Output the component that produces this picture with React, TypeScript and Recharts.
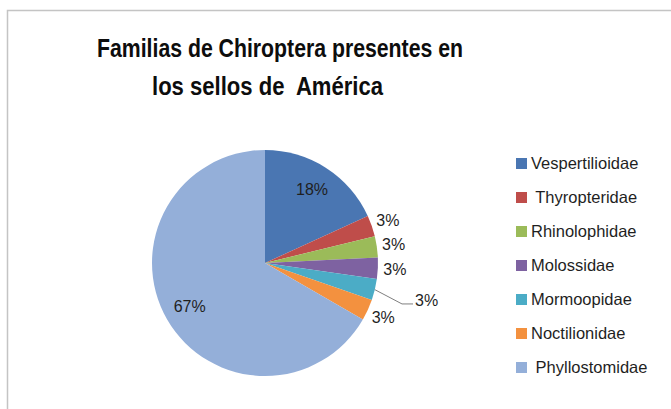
import React from "react";
import { PieChart, Pie, Cell, Legend } from "recharts";

const families = [
  "Vespertilioidae",
  " Thyropteridae",
  "Rhinolophidae",
  "Molossidae",
  "Mormoopidae",
  "Noctilionidae",
  " Phyllostomidae",
];
const stampCounts = [6, 1, 1, 1, 1, 1, 22];
const sliceColors = ["#4A76B2", "#BF4D4A", "#9BBB59", "#7E62A1", "#4BACC6", "#F3913F", "#94AFD9"];
const titleLines = ["Familias de Chiroptera presentes en", "los sellos de  América"];

const data = families.map((name, i) => ({ name, value: stampCounts[i] }));

const RAD = Math.PI / 180;
const FONT = "'Liberation Sans', Arial, sans-serif";

const polar = (cx: number, cy: number, r: number, angle: number) => ({
  x: cx + r * Math.cos(-angle * RAD),
  y: cy + r * Math.sin(-angle * RAD),
});

const renderLabel = (props: any) => {
  const { cx, cy, midAngle, outerRadius, percent, index } = props;
  const text = `${Math.round(percent * 100)}%`;
  const common = {
    fontFamily: FONT,
    fontSize: 16,
    fill: "#1f1f1f",
    dominantBaseline: "central" as const,
  };
  if (percent > 0.1) {
    const p = polar(cx, cy, outerRadius * 0.77, midAngle);
    return (
      <text key={`l${index}`} x={p.x} y={p.y} textAnchor="middle" {...common}>
        {text}
      </text>
    );
  }
  if (index === 4) {
    const s = polar(cx, cy, outerRadius, midAngle);
    const e = polar(cx, cy, outerRadius + 30, midAngle - 3);
    return (
      <g key={`l${index}`}>
        <polyline
          points={`${s.x},${s.y} ${e.x},${e.y} ${e.x + 11},${e.y}`}
          fill="none"
          stroke="#7f7f7f"
          strokeWidth={1}
        />
        <text x={e.x + 13} y={e.y - 3} textAnchor="start" {...common}>
          {text}
        </text>
      </g>
    );
  }
  const p = polar(cx, cy, outerRadius + 17, midAngle);
  return (
    <text key={`l${index}`} x={p.x} y={p.y} textAnchor="middle" {...common}>
      {text}
    </text>
  );
};

const renderLegend = () => (
  <div style={{ fontFamily: FONT, fontSize: 16.5, color: "#1f1f1f" }}>
    {data.map((d, i) => (
      <div
        key={d.name}
        style={{ height: 34, display: "flex", alignItems: "center", whiteSpace: "pre" }}
      >
        <span
          style={{
            display: "inline-block",
            width: 11,
            height: 11,
            background: sliceColors[i],
            marginRight: 4,
          }}
        />
        <span>{d.name}</span>
      </div>
    ))}
  </div>
);

export default function App() {
  return (
    <div style={{ position: "absolute", left: 0, top: 0, width: 671, height: 409, background: "#fff" }}>
      <svg width={671} height={409} style={{ position: "absolute", left: 0, top: 0 }}>
        <path d="M7.5,409 L7.5,10.5 L671,10.5" fill="none" stroke="#c4c4c4" strokeWidth={1.5} />
        <text
          x={97}
          y={57}
          textLength={366}
          lengthAdjust="spacingAndGlyphs"
          fontFamily={FONT}
          fontWeight="bold"
          fontSize={26}
          fill="#0d0d0d"
          style={{ whiteSpace: "pre" }}
        >
          {titleLines[0]}
        </text>
        <text
          x={152}
          y={95}
          textLength={231}
          lengthAdjust="spacingAndGlyphs"
          fontFamily={FONT}
          fontWeight="bold"
          fontSize={26}
          fill="#0d0d0d"
          style={{ whiteSpace: "pre" }}
        >
          {titleLines[1]}
        </text>
      </svg>
      <div style={{ position: "absolute", left: 0, top: 0 }}>
        <PieChart width={671} height={409}>
          <Pie
            data={data}
            dataKey="value"
            nameKey="name"
            cx={260}
            cy={258}
            outerRadius={113}
            startAngle={90}
            endAngle={-270}
            stroke="none"
            label={renderLabel}
            labelLine={false}
            isAnimationActive={false}
          >
            {data.map((d, i) => (
              <Cell key={d.name} fill={sliceColors[i]} />
            ))}
          </Pie>
          <Legend
            content={renderLegend}
            wrapperStyle={{ position: "absolute", left: 516, top: 146, width: 152, height: 240 }}
          />
        </PieChart>
      </div>
    </div>
  );
}
